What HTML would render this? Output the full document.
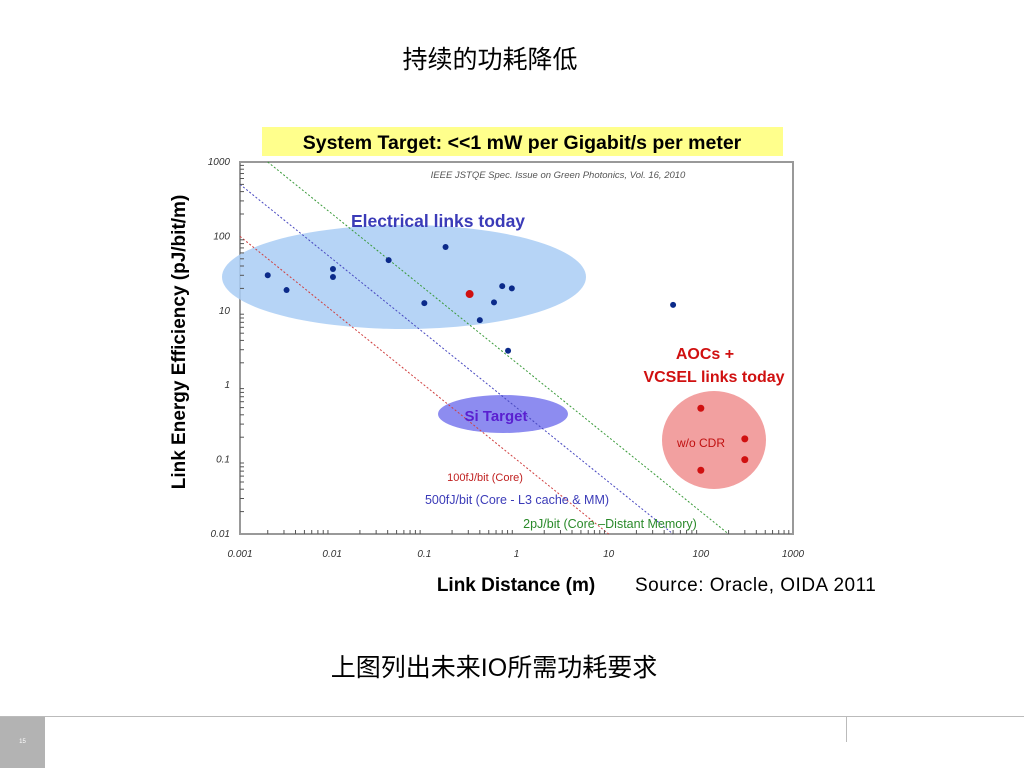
<!DOCTYPE html>
<html><head><meta charset="utf-8"><style>
html,body{margin:0;padding:0;background:#fff;}
body{width:1024px;height:768px;position:relative;overflow:hidden;font-family:"Liberation Sans","Noto Sans CJK SC",sans-serif;}
.abs{position:absolute;}
</style></head><body>
<div class="abs" style="left:0;width:980px;top:40px;text-align:center;font-size:25px;color:#000;">持续的功耗降低</div>
<svg class="abs" style="left:0;top:0" width="1024" height="768" id="chart">
<rect x="262" y="127" width="521" height="29" fill="#ffff8c"/>
<text x="522" y="149" text-anchor="middle" font-size="19.5" font-weight="bold" font-family="Liberation Sans,sans-serif">System Target: &lt;&lt;1 mW per Gigabit/s per meter</text>
<rect x="240" y="162" width="553" height="372" fill="#fff" stroke="#999" stroke-width="2"/>
<ellipse cx="404" cy="277" rx="182" ry="52" fill="#a9cdf5" opacity="0.85"/>
<ellipse cx="503" cy="414" rx="65" ry="19" fill="#8d8cf0"/>
<ellipse cx="714" cy="440" rx="52" ry="49" fill="#f2a0a0"/>
<g id="lines"></g>
<g id="pts"></g>
<g id="ticks" font-family="Liberation Sans,sans-serif" font-size="10" font-style="italic" fill="#333"></g>
<text x="558" y="178" text-anchor="middle" font-size="9.5" font-style="italic" fill="#555">IEEE JSTQE Spec. Issue on Green Photonics, Vol. 16, 2010</text>
<text x="438" y="227" text-anchor="middle" font-size="17.5" font-weight="bold" fill="#3b3bb8">Electrical links today</text>
<text x="496" y="421" text-anchor="middle" font-size="15" font-weight="bold" fill="#5a1fd0">Si Target</text>
<text x="705" y="359" text-anchor="middle" font-size="16" font-weight="bold" fill="#d01010">AOCs +</text>
<text x="714" y="382" text-anchor="middle" font-size="16" font-weight="bold" fill="#d01010">VCSEL links today</text>
<text x="701" y="447" text-anchor="middle" font-size="12" fill="#c01010">w/o CDR</text>
<text x="485" y="481" text-anchor="middle" font-size="11" fill="#c02020">100fJ/bit (Core)</text>
<text x="517" y="504" text-anchor="middle" font-size="12.5" fill="#3b3bb8">500fJ/bit (Core - L3 cache &amp; MM)</text>
<text x="610" y="528" text-anchor="middle" font-size="12.5" fill="#2a8a2a">2pJ/bit (Core –Distant Memory)</text>
<text x="516" y="591" text-anchor="middle" font-size="19" font-weight="bold">Link Distance (m)</text>
<text transform="translate(185,342) rotate(-90)" text-anchor="middle" font-size="19" font-weight="bold">Link Energy Efficiency (pJ/bit/m)</text>
</svg>
<div class="abs" style="left:635px;top:575px;font-size:19px;letter-spacing:0.5px;">Source: Oracle, OIDA 2011</div>
<div class="abs" style="left:0;width:988px;top:648px;text-align:center;font-size:25px;">上图列出未来IO所需功耗要求</div>
<div class="abs" style="left:0;top:716px;width:1024px;height:1px;background:#bbb;"></div>
<div class="abs" style="left:0;top:717px;width:45px;height:51px;background:#b3b3b3;color:#fff;font-size:6px;text-align:center;line-height:51px;">15</div>
<div class="abs" style="left:846px;top:716px;width:1px;height:26px;background:#bbb;"></div>
<script>
const xTicks=[0.001,0.01,0.1,1,10,100,1000];
const xTickLabels=["0.001","0.01","0.1","1","10","100","1000"];
const yTicks=[1000,100,10,1,0.1,0.01];
const yTickLabels=["1000","100","10","1","0.1","0.01"];
const elecX=[0.002,0.0032,0.0102,0.0102,0.041,0.1,0.17,0.31,0.40,0.57,0.70,0.89,0.81,50];
const elecY=[30,19,36.5,28.5,48,12.7,72,16.8,7.5,13,21.5,20,2.9,12];
const elecRed=[0,0,0,0,0,0,0,1,0,0,0,0,0,0];
const aocX=[100,300,300,100];
const aocY=[0.49,0.19,0.1,0.072];
const lineEnergy=[0.1,0.5,2];
const lineColors=["#d04040","#4848c0","#3a9a3a"];
const NS="http://www.w3.org/2000/svg";
const X0=240,X1=793,Y0=162,Y1=534;
function xs(v){return X0+(Math.log10(v)+3)/6*(X1-X0);}
function ys(v){return Y0+(3-Math.log10(v))/5*(Y1-Y0);}
const tk=document.getElementById('ticks');
xTicks.forEach((t,i)=>{
 const tx=document.createElementNS(NS,'text');tx.setAttribute('x',xs(t));tx.setAttribute('y',557);tx.setAttribute('text-anchor','middle');tx.textContent=xTickLabels[i];
 
 
 tk.appendChild(tx);
 if(i<xTicks.length-1){for(let k=2;k<10;k++){const l=document.createElementNS(NS,'line');const xx=xs(t*k);l.setAttribute('x1',xx);l.setAttribute('x2',xx);l.setAttribute('y1',Y1);l.setAttribute('y2',Y1-4);l.setAttribute('stroke','#555');
 
 
 tk.appendChild(l);}}
});
yTicks.forEach((t,i)=>{
 const tx=document.createElementNS(NS,'text');tx.setAttribute('x',230);tx.setAttribute('y',ys(t)+3);tx.setAttribute('text-anchor','end');tx.textContent=yTickLabels[i];
 
 
 tk.appendChild(tx);
 if(i<yTicks.length-1){for(let k=2;k<10;k++){const l=document.createElementNS(NS,'line');const yy=ys(t/10*k);l.setAttribute('x1',X0);l.setAttribute('x2',X0+4);l.setAttribute('y1',yy);l.setAttribute('y2',yy);l.setAttribute('stroke','#555');
 
 
 tk.appendChild(l);}}
});
const lg=document.getElementById('lines');
lineEnergy.forEach((e,i)=>{
 let xa=Math.max(0.001,e/1000),xb=e/0.01;
 const l=document.createElementNS(NS,'line');
 l.setAttribute('x1',xs(xa));l.setAttribute('y1',ys(e/xa));l.setAttribute('x2',xs(xb));l.setAttribute('y2',ys(e/xb));
 l.setAttribute('stroke',lineColors[i]);l.setAttribute('stroke-dasharray','2,2');l.setAttribute('stroke-width','1');
 
 
 lg.appendChild(l);
});
const pg=document.getElementById('pts');
elecX.forEach((x,i)=>{
 const c=document.createElementNS(NS,'circle');c.setAttribute('cx',xs(x));c.setAttribute('cy',ys(elecY[i]));c.setAttribute('r',elecRed[i]?4:3);
 c.setAttribute('fill',elecRed[i]?'#d01010':'#0b2a8a');
 
 
 pg.appendChild(c);
});
aocX.forEach((x,i)=>{
 const c=document.createElementNS(NS,'circle');c.setAttribute('cx',xs(x));c.setAttribute('cy',ys(aocY[i]));c.setAttribute('r',3.5);c.setAttribute('fill','#d01010');
 
 
 pg.appendChild(c);
});
</script>
</body></html>
